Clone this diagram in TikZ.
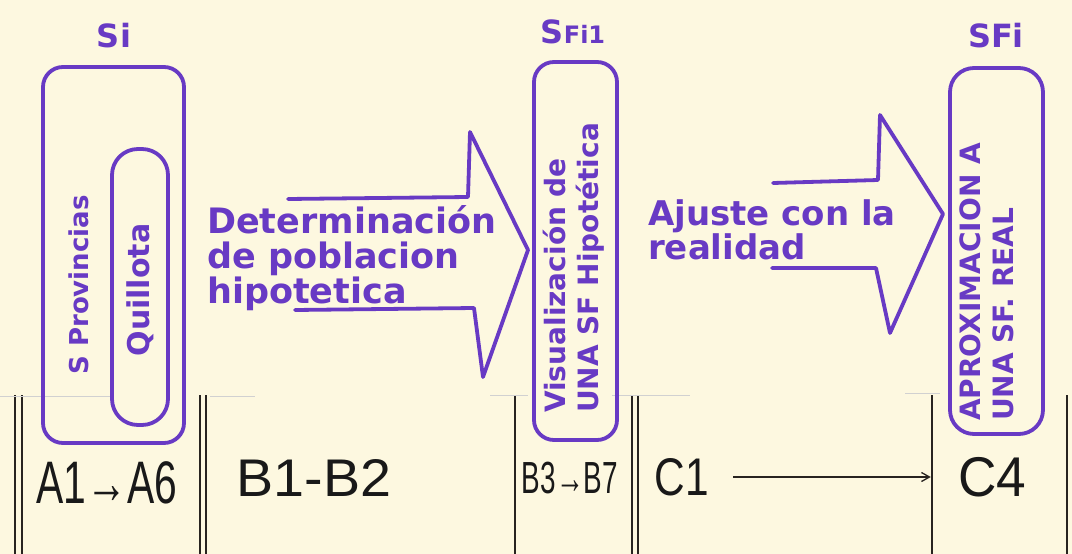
\documentclass[tikz,border=0pt]{standalone}
\usepackage{fontspec}
\setmainfont{Liberation Sans}
\newfontfamily\hand{DejaVu Sans}
\usetikzlibrary{arrows.meta}
\definecolor{ink}{RGB}{104,58,196}
\definecolor{paper}{RGB}{253,248,224}
\definecolor{rulegray}{RGB}{40,36,32}
\tikzset{
  pen/.style={draw=ink, line width=3.8pt, line join=round, line cap=round},
  pbox/.style={pen, rounded corners=#1, inner sep=0},
  ptext/.style={text=ink, align=left, inner sep=0,
    font=\hand\bfseries\fontsize{#1}{33}\selectfont},
  rtext/.style={text=ink, align=left, inner sep=0, rotate=90,
    font=\hand\bfseries\fontsize{#1}{33}\selectfont},
  lbl/.style={text=ink, inner sep=0, font=\hand\bfseries\fontsize{32}{36}\selectfont},
  colrule/.style={draw=rulegray, line width=1.5pt},
  faint/.style={draw=black!18, line width=1pt},
  btext/.style={inner sep=0, text=black!90, font=\fontsize{#1}{#1}\selectfont},
}
\begin{document}
\begin{tikzpicture}[x=1pt,y=-1pt]
\fill[paper] (0,0) rectangle (1072,554);
\useasboundingbox (0,0) rectangle (1072,554);

% column rules
\foreach \x in {15,22,200,206,515,632,638,932,1067}
  \draw[colrule] (\x,395) -- (\x,554);
\draw[faint] (0,396) -- (110,396);
\draw[faint] (210,396) -- (255,396);
\draw[faint] (490,395) -- (528,395);
\draw[faint] (612,395) -- (690,395);
\draw[faint] (905,393) -- (940,393);

% labels above boxes
\node[lbl] (si) at (114,36) {Si};
\node[lbl] (sfi1) at (573,32) {S{\fontsize{24}{28}\selectfont Fi1}};
\node[lbl] (sfi) at (996,36) {SFi};

% boxes
\node[pbox=20pt, minimum width=141, minimum height=376] (outer) at (113.5,255) {};
\node[pbox=26pt, minimum width=56, minimum height=276] (inner) at (140,287) {};
\node[pbox=20pt, minimum width=83, minimum height=378] (hypo) at (575.5,251) {};
\node[pbox=24pt, minimum width=93, minimum height=366] (real) at (996.5,251) {};

% rotated texts
\node[rtext=26] (prov) at (79,285) {S Provincias};
\node[rtext=30] (quil) at (140,290) {Quillota};
\node[rtext=28, anchor=center] (vis) at (574,268) {Visualización de\\UNA SF Hipotética};
\node[rtext=28, anchor=center] (apr) at (987,282) {APROXIMACION A\\UNA SF. REAL};

% block arrows
\draw[pen] (288,199) -- (468,197) -- (470,132) -- (528,250) -- (483,377) -- (474,308) -- (295,310);
\draw[pen] (773,183) -- (878,180) -- (880,115) -- (943,214) -- (890,333) -- (876,268) -- (772,268);

\node[ptext=35, anchor=north west, font=\hand\bfseries\fontsize{35}{35}\selectfont] (det) at (207,205) {Determinación\\de poblacion\\hipotetica};
\node[ptext=34, anchor=north west] (aju) at (648,199) {Ajuste con la\\realidad};

% bottom texts
\node[btext=60] (a) at (107,483) {\scalebox{0.68}[1]{A1→A6}};
\node[btext=53] (b) at (314,478) {\scalebox{1.05}[1]{B1-B2}};
\node[btext=45] (b3) at (570,478) {\scalebox{0.62}[1]{B3→B7}};
\node[btext=53] (c1) at (682,477) {\scalebox{0.8}[1]{C1}};
\node[btext=56] (c4) at (992,477) {\scalebox{0.95}[1]{C4}};
\draw[colrule, line width=1.3pt, -{Straight Barb[length=8pt,width=9pt]}, shorten <=24pt, shorten >=27pt]
  (c1.east) -- (c4.west);
\end{tikzpicture}
\end{document}
